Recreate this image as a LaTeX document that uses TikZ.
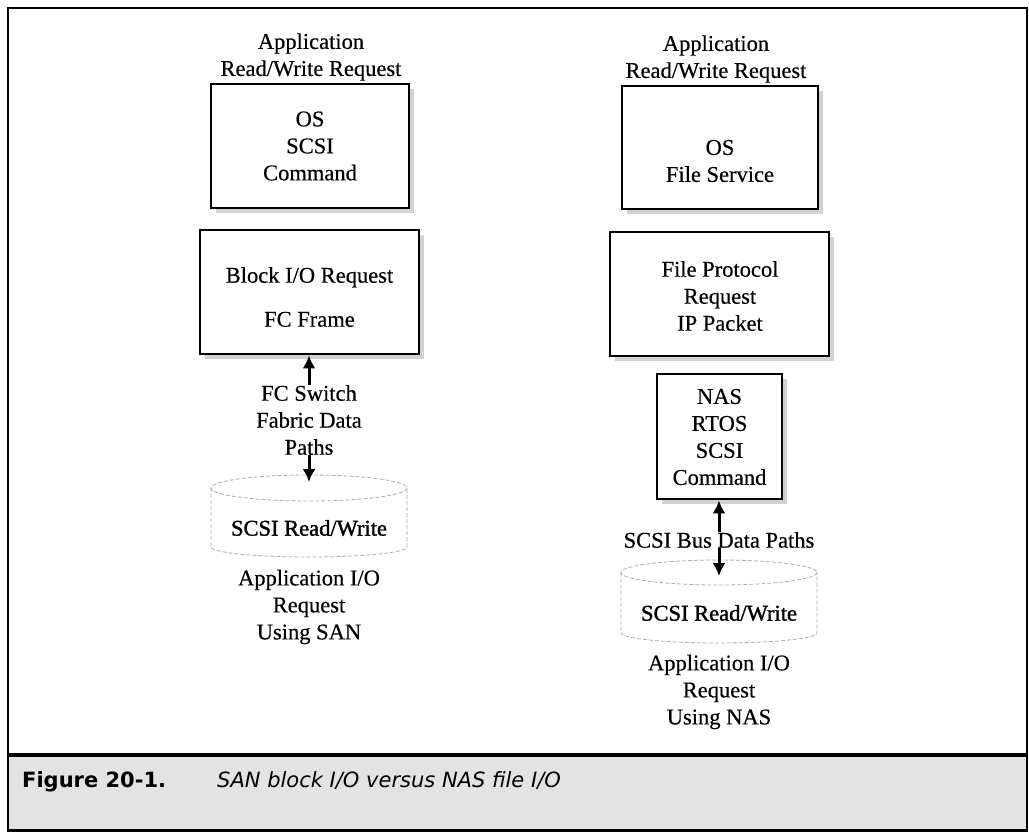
\documentclass[tikz,border=0pt]{standalone}
\usepackage{fontspec}
\setmainfont{Liberation Serif}[FakeBold=0.4]
\newfontfamily\capsans{DejaVu Sans}
\usetikzlibrary{arrows.meta,shadows}

\begin{document}
\begin{tikzpicture}[x=1pt,y=-1pt,
  txt/.style={align=center,inner sep=0pt,font=\fontsize{22.5}{27}\selectfont},
  heavytxt/.style={txt,font=\fontsize{22.5}{27}\selectfont\addfontfeature{FakeBold=1.4}},
  procbox/.style={draw,line width=2.8pt,fill=white,inner sep=0pt,
    drop shadow={shadow xshift=5pt,shadow yshift=-5pt,fill=gray!35,opacity=1}},
  link/.style={line width=3pt,-{Latex[length=13pt,width=13pt]}},
  disk/.style={draw=gray!65,line width=0.8pt,dash pattern=on 4pt off 2pt},
  frameline/.style={line width=2.5pt},
  capnum/.style={anchor=base west,inner sep=0pt,font=\capsans\bfseries\fontsize{21}{25}\selectfont},
  captitle/.style={anchor=base west,inner sep=0pt,font=\capsans\itshape\fontsize{21}{25}\selectfont}]
\useasboundingbox (0,0) rectangle (1029,832);

% caption band and outer frame
\fill[gray!22] (8,757) rectangle (1027,830);
\draw[line width=4.5pt] (8,755) -- (1027,755);
\draw[frameline] (8,8) rectangle (1027,830.5);

% ---- SAN column ----
\node[txt] (appL) at (311,57) {Application\\Read/Write Request};
\node[procbox,minimum width=198pt,minimum height=124pt] (sanOS) at (310,146) {};
\node[txt] (sanOSt) at (310,146) {OS\\SCSI\\Command};
\node[procbox,minimum width=219pt,minimum height=124pt] (sanBlock) at (309.5,292) {};
\node[txt] (sanBlockt) at (309.5,297) {Block I/O Request\\[17pt]FC Frame};
\node[txt] (fcLbl) at (309,420) {FC Switch\\Fabric Data\\Paths};

% SAN disk
\draw[disk] (309,488) ellipse[x radius=98, y radius=13];
\draw[disk] (211,488) -- (211,547) arc[start angle=180, end angle=0, x radius=98, y radius=10] -- (407,488);
\coordinate (sanTop) at (309,482);
\node[heavytxt] (sanDisk) at (309,528) {SCSI Read/Write};
\node[txt] (sanCap) at (309,607) {Application I/O\\Request\\Using SAN};

\draw[link] (fcLbl.north) -- (fcLbl.north |- sanBlock.south);
\draw[link] (fcLbl.south) -- (sanTop);

% ---- NAS column ----
\node[txt] (appR) at (716,59) {Application\\Read/Write Request};
\node[procbox,minimum width=196pt,minimum height=123pt] (nasOS) at (720,147.5) {};
\node[txt] (nasOSt) at (720,161) {OS\\File Service};
\node[procbox,minimum width=219pt,minimum height=124pt] (nasProto) at (719.5,294) {};
\node[txt] (nasProtot) at (720,296) {File Protocol\\Request\\IP Packet};
\node[procbox,minimum width=125pt,minimum height=125pt] (nasRtos) at (719.5,436.5) {};
\node[txt] (nasRtost) at (719.5,437) {NAS\\RTOS\\SCSI\\Command};
\node[txt] (busLbl) at (719,540) {SCSI Bus Data Paths};

% NAS disk
\draw[disk] (719,572.5) ellipse[x radius=98, y radius=12.5];
\draw[disk] (621,572.5) -- (621,633) arc[start angle=180, end angle=0, x radius=98, y radius=10] -- (817,572.5);
\coordinate (nasTop) at (719,576);
\node[heavytxt] (nasDisk) at (719,613) {SCSI Read/Write};
\node[txt] (nasCap) at (719,692) {Application I/O\\Request\\Using NAS};

\draw[link] (busLbl.north) -- (busLbl.north |- nasRtos.south);
\draw[link] (busLbl.south) -- (nasTop);

% caption
\node[capnum] (figNo) at (22,787) {Figure 20-1.};
\node[captitle] (figTitle) at (217,787) {SAN block I/O versus NAS file I/O};
\end{tikzpicture}
\end{document}
